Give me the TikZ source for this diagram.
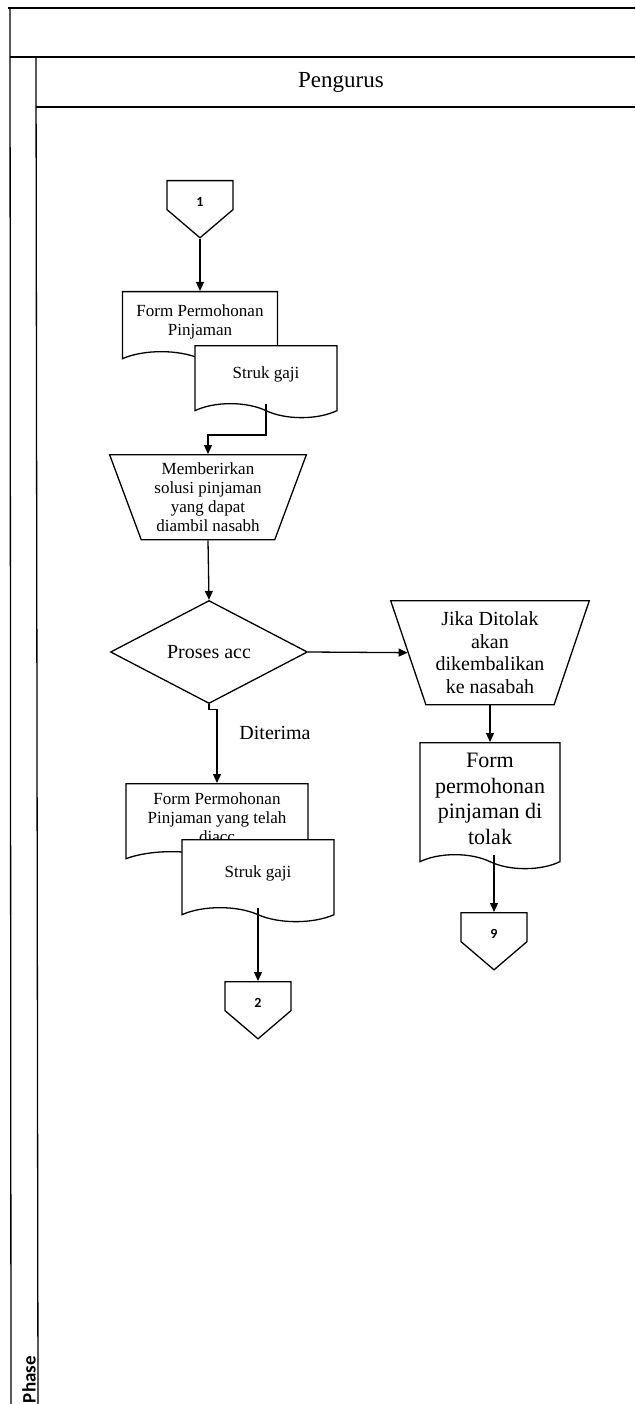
\documentclass[tikz,border=0pt]{standalone}
\usepackage{fontspec}
\setmainfont{Liberation Serif}
\newfontfamily\lanefont{Carlito}
\usetikzlibrary{arrows.meta,shapes.geometric,shapes.symbols}

\begin{document}
\begin{tikzpicture}[x=1pt, y=-1pt, line width=1.3pt, >={Triangle[length=9pt,width=8pt]},
  doc/.style={draw, fill=white, tape, tape bend top=none, tape bend bottom=out and in,
    tape bend height=14pt, align=center, inner sep=1pt, anchor=north},
  trap/.style={draw, trapezium, shape border rotate=180, trapezium left angle=70,
    trapezium right angle=70, trapezium stretches=true, align=center, inner sep=1pt, anchor=north},
  offpage/.style={draw, signal, signal to=south, signal from=nowhere, signal pointer angle=99,
    minimum width=66pt, minimum height=32pt, inner sep=0pt, anchor=north,
    text height=22pt, text depth=0pt,
    font=\lanefont\bfseries\fontsize{14}{16}\selectfont},
  smalltxt/.style={font=\fontsize{17}{19}\selectfont},
  bigtxt/.style={font=\fontsize{20}{22.5}\selectfont}]
\useasboundingbox (0,0) rectangle (635,1404);
% swimlane
\draw (8,8) -- (635,8);
\draw (10,8) -- (11,1404);
\draw (10,57) -- (635,57);
\draw (36,57) -- (38,1404);
\draw (36,107) -- (635,107);
\node[font=\fontsize{23}{23}\selectfont] (lane) at (341,82) {Pengurus};
\node[rotate=90, anchor=west, font=\lanefont\bfseries\fontsize{19}{19}\selectfont] (phase) at (29,1407) {Phase};
% left column
\node[offpage] (c1) at (200,180) {1};
\node[doc, smalltxt, minimum width=155pt, minimum height=74pt] (frm1) at (200,291) {Form Permohonan\\Pinjaman};
\node[doc, smalltxt, minimum width=142pt, minimum height=72pt] (sg1) at (266,345) {Struk gaji};
\node[trap, smalltxt, minimum width=197pt, minimum height=85pt] (solusi) at (208,454)
  {Memberirkan\\solusi pinjaman\\yang dapat\\diambil nasabh};
\node[draw, diamond, minimum width=197pt, minimum height=103pt, inner sep=0pt, bigtxt] (acc) at (209,652) {Proses acc};
\node[bigtxt] (ok) at (275,733) {Diterima};
\node[doc, smalltxt, minimum width=182pt, minimum height=82pt] (frm2) at (217,783) {Form Permohonan\\Pinjaman yang telah\\diacc};
\node[doc, smalltxt, minimum width=152pt, minimum height=82pt] (sg2) at (258,839) {Struk gaji};
\node[offpage] (c2) at (258,981) {2};
% right column
\node[trap, bigtxt, minimum width=199pt, minimum height=104pt] (tolak) at (490,600)
  {Jika Ditolak\\akan\\dikembalikan\\ke nasabah};
\node[doc, font=\fontsize{22}{25.5}\selectfont, minimum width=140pt, minimum height=126pt] (frm3) at (490,742)
  {Form\\permohonan\\pinjaman di\\tolak};
\node[offpage] (c9) at (494,912) {9};
% connectors
\draw[->] (c1.south) -- (frm1.north);
\draw[->] (sg1.south) -- (sg1.south |- 0,435) -| (solusi.north);
\draw[->] (solusi.south) -- (acc.north);
\draw[->] (acc.east) -- (tolak.west);
\draw[->] (acc.south) -- ++(0,5) -| (frm2.north);
\draw[->] (sg2.south) -- (c2.north);
\draw[->] (tolak.south) -- (frm3.north);
\draw[->] (c9.north |- frm3.south) -- (c9.north);
\end{tikzpicture}
\end{document}
